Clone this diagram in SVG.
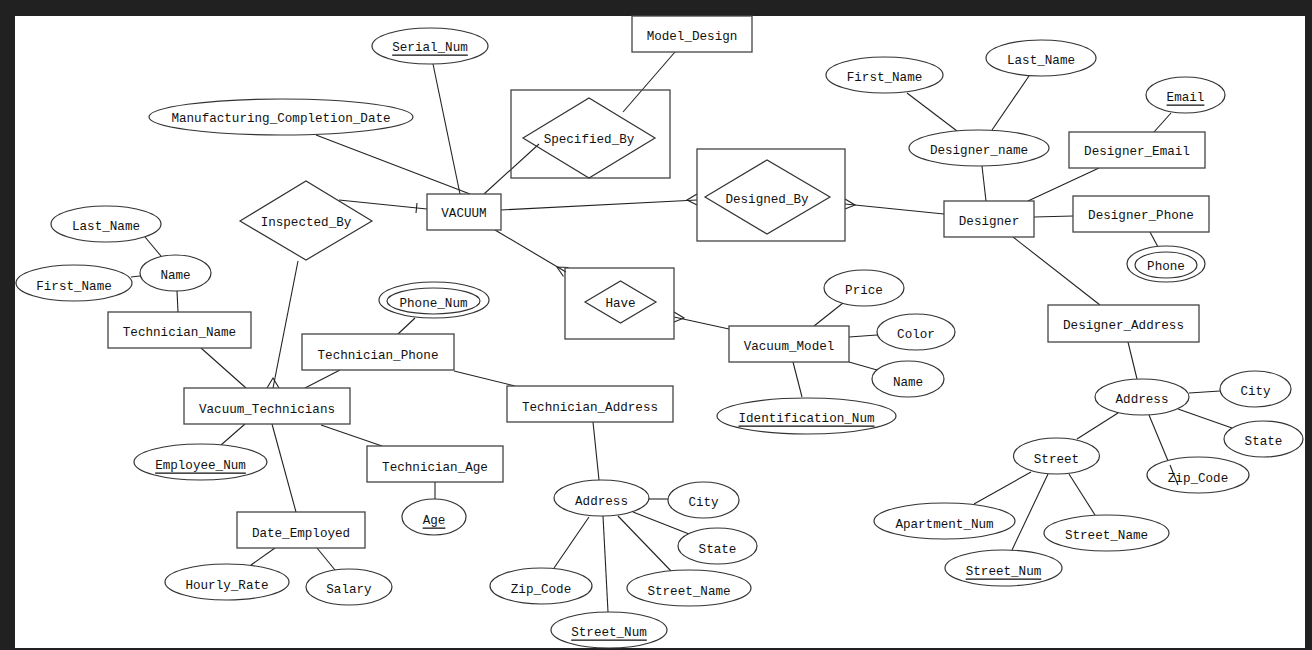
<svg xmlns="http://www.w3.org/2000/svg" width="1312" height="650" viewBox="0 0 1312 650">
<style>
.e{fill:#fff;stroke:#333;stroke-width:1.2}
.r{fill:#fff;stroke:#444;stroke-width:1.3}
.b{fill:none;stroke:#444;stroke-width:1.3}
.d{fill:none;stroke:#333;stroke-width:1.2}
.l{fill:none;stroke:#222;stroke-width:1.1}
text{font-family:"Liberation Mono","Courier New",monospace;font-size:12.6px;fill:#111;text-anchor:middle;dominant-baseline:central;transform:translateY(1.5px)}
.u{text-decoration:underline}
</style>
<rect x="0" y="0" width="1312" height="650" fill="#212121"/>
<rect x="15" y="16" width="1290" height="632" fill="#fff"/>
<g id="connectors">
<line class="l" x1="433" y1="64" x2="460" y2="194"/>
<line class="l" x1="316" y1="135" x2="470" y2="194"/>
<line class="l" x1="339" y1="200" x2="427" y2="209"/>
<line class="l" x1="417" y1="203" x2="416" y2="213"/>
<line class="l" x1="484" y1="194" x2="539" y2="144"/>
<line class="l" x1="675" y1="52" x2="623" y2="112"/>
<line class="l" x1="501" y1="210" x2="697" y2="200"/>
<polyline class="l" points="697,194 687,200 697,205"/>
<line class="l" x1="944" y1="214" x2="845" y2="204"/>
<polyline class="l" points="845,199 855,205 845,209"/>
<line class="l" x1="495" y1="230" x2="566" y2="272"/>
<polyline class="l" points="563.5,276.5 557,267 568.5,267.5"/>
<line class="l" x1="729" y1="329" x2="674" y2="317"/>
<polyline class="l" points="674,312 684,318 674,322"/>
<line class="l" x1="298" y1="261" x2="273" y2="388"/>
<polyline class="l" points="267,388 273,378 279,388"/>
<line class="l" x1="907" y1="93" x2="957" y2="131"/>
<line class="l" x1="1029" y1="76" x2="992" y2="130"/>
<line class="l" x1="982" y1="166" x2="986" y2="201"/>
<line class="l" x1="1171" y1="113" x2="1154" y2="132"/>
<line class="l" x1="1099" y1="168" x2="1028" y2="201"/>
<line class="l" x1="1034" y1="217" x2="1073" y2="216"/>
<line class="l" x1="1150" y1="232" x2="1158" y2="247"/>
<line class="l" x1="1013" y1="237" x2="1100" y2="305"/>
<line class="l" x1="1128" y1="342" x2="1137" y2="379"/>
<line class="l" x1="1189" y1="393" x2="1220" y2="391"/>
<line class="l" x1="1178" y1="409" x2="1232" y2="428"/>
<line class="l" x1="1149" y1="415" x2="1178" y2="485"/>
<line class="l" x1="1118" y1="413" x2="1077" y2="439"/>
<line class="l" x1="1031" y1="472" x2="974" y2="504"/>
<line class="l" x1="1048" y1="474" x2="1012" y2="550"/>
<line class="l" x1="1069" y1="474" x2="1095" y2="515"/>
<line class="l" x1="145" y1="237" x2="161" y2="256"/>
<line class="l" x1="131" y1="277" x2="140" y2="276"/>
<line class="l" x1="177" y1="291" x2="178" y2="312"/>
<line class="l" x1="201" y1="348" x2="246" y2="388"/>
<line class="l" x1="415" y1="318" x2="398" y2="334"/>
<line class="l" x1="340" y1="370" x2="305" y2="388"/>
<line class="l" x1="454" y1="371" x2="515" y2="386"/>
<line class="l" x1="245" y1="424" x2="221" y2="445"/>
<line class="l" x1="321" y1="425" x2="382" y2="446"/>
<line class="l" x1="435" y1="482" x2="435" y2="499"/>
<line class="l" x1="272" y1="424" x2="296" y2="512"/>
<line class="l" x1="275" y1="548" x2="251" y2="565"/>
<line class="l" x1="317" y1="548" x2="335" y2="570"/>
<line class="l" x1="814" y1="326" x2="843" y2="303"/>
<line class="l" x1="849" y1="337" x2="877" y2="335"/>
<line class="l" x1="849" y1="362" x2="877" y2="370"/>
<line class="l" x1="793" y1="362" x2="802" y2="397"/>
<line class="l" x1="593" y1="422" x2="599" y2="480"/>
<line class="l" x1="649" y1="499" x2="668" y2="499"/>
<line class="l" x1="633" y1="512" x2="689" y2="534"/>
<line class="l" x1="589" y1="517" x2="554" y2="568"/>
<line class="l" x1="603" y1="516" x2="608" y2="612"/>
<line class="l" x1="618" y1="516" x2="671" y2="571"/>
</g>
<g id="Serial_Num"><ellipse class="e" cx="430" cy="46" rx="58" ry="18"/><text class="u" x="430" y="46">Serial_Num</text></g>
<g id="Manufacturing_Completion_Date"><ellipse class="e" cx="281" cy="117" rx="132" ry="18"/><text x="281" y="117">Manufacturing_Completion_Date</text></g>
<g id="VACUUM"><rect class="r" x="427" y="194" width="74" height="36"/><text x="464" y="212">VACUUM</text></g>
<g id="Model_Design"><rect class="r" x="632" y="16" width="120" height="36"/><text x="692" y="35">Model_Design</text></g>
<g id="Specified_By"><rect class="b" x="511" y="90" width="159" height="88"/><polygon class="d" points="523,138 589,98 655,138 589,178"/><text x="589" y="138">Specified_By</text></g>
<g id="Designed_By"><rect class="b" x="697" y="149" width="148" height="92"/><polygon class="d" points="705,197 767,160 830,197 767,234"/><text x="767" y="198">Designed_By</text></g>
<g id="Have"><rect class="b" x="565" y="268" width="109" height="71"/><polygon class="d" points="585,302 620.5,281 656,302 620.5,323"/><text x="620.5" y="302">Have</text></g>
<g id="Inspected_By"><polygon class="d" points="240,221 306,181 372,221 306,260"/><text x="306" y="221">Inspected_By</text></g>
<g id="Designer"><rect class="r" x="944" y="201" width="90" height="36"/><text x="989" y="220">Designer</text></g>
<g id="Designer_name"><ellipse class="e" cx="979" cy="148" rx="70" ry="18"/><text x="979" y="149">Designer_name</text></g>
<g id="D_First_Name"><ellipse class="e" cx="884.5" cy="75" rx="58.5" ry="18"/><text x="884.5" y="76">First_Name</text></g>
<g id="D_Last_Name"><ellipse class="e" cx="1041" cy="58" rx="55" ry="18"/><text x="1041" y="59">Last_Name</text></g>
<g id="Email"><ellipse class="e" cx="1185.5" cy="95" rx="39.5" ry="18"/><text class="u" x="1185.5" y="96">Email</text></g>
<g id="Designer_Email"><rect class="r" x="1069" y="132" width="136" height="36"/><text x="1137" y="150">Designer_Email</text></g>
<g id="Designer_Phone"><rect class="r" x="1073" y="196" width="136" height="36"/><text x="1141" y="214">Designer_Phone</text></g>
<g id="Phone"><ellipse class="e" cx="1166" cy="264" rx="39" ry="18"/><ellipse class="e" cx="1166" cy="265" rx="31" ry="13"/><text x="1166" y="265">Phone</text></g>
<g id="Designer_Address"><rect class="r" x="1048" y="305" width="151" height="37"/><text x="1123.5" y="324">Designer_Address</text></g>
<g id="D_Address"><ellipse class="e" cx="1142" cy="397" rx="47" ry="18"/><text x="1142" y="398">Address</text></g>
<g id="D_City"><ellipse class="e" cx="1255.5" cy="389" rx="35.5" ry="18"/><text x="1255.5" y="390">City</text></g>
<g id="D_State"><ellipse class="e" cx="1263.5" cy="439" rx="39.5" ry="18"/><text x="1263.5" y="440">State</text></g>
<g id="D_Zip_Code"><ellipse class="e" cx="1198" cy="475" rx="51" ry="18"/><text x="1198" y="477">Zip_Code</text></g>
<line class="l" x1="1170" y1="465" x2="1178" y2="485"/>
<g id="D_Street"><ellipse class="e" cx="1056.5" cy="456" rx="43" ry="18"/><text x="1056.5" y="458">Street</text></g>
<g id="D_Apartment_Num"><ellipse class="e" cx="944.5" cy="521" rx="70.5" ry="18"/><text x="944.5" y="523">Apartment_Num</text></g>
<g id="D_Street_Num"><ellipse class="e" cx="1003.5" cy="568" rx="58.5" ry="18"/><text class="u" x="1003.5" y="570">Street_Num</text></g>
<g id="D_Street_Name"><ellipse class="e" cx="1106.5" cy="533" rx="62.5" ry="18"/><text x="1106.5" y="534">Street_Name</text></g>
<g id="T_Last_Name"><ellipse class="e" cx="106" cy="224" rx="55" ry="18"/><text x="106" y="225">Last_Name</text></g>
<g id="T_Name"><ellipse class="e" cx="175.5" cy="273" rx="35.5" ry="18"/><text x="175.5" y="274">Name</text></g>
<g id="T_First_Name"><ellipse class="e" cx="74" cy="283" rx="58" ry="18"/><text x="74" y="285">First_Name</text></g>
<g id="Technician_Name"><rect class="r" x="108" y="312" width="143" height="36"/><text x="179.5" y="331">Technician_Name</text></g>
<g id="Vacuum_Technicians"><rect class="r" x="184" y="388" width="166" height="36"/><text x="267" y="408">Vacuum_Technicians</text></g>
<g id="Technician_Phone"><rect class="r" x="302" y="334" width="152" height="36"/><text x="378" y="354">Technician_Phone</text></g>
<g id="Phone_Num"><ellipse class="e" cx="434" cy="300" rx="55" ry="18"/><ellipse class="e" cx="433.5" cy="301" rx="46.5" ry="13"/><text x="433.5" y="302">Phone_Num</text></g>
<g id="Employee_Num"><ellipse class="e" cx="200.5" cy="462" rx="66.5" ry="18"/><text class="u" x="200.5" y="464">Employee_Num</text></g>
<g id="Technician_Age"><rect class="r" x="367" y="446" width="136" height="36"/><text x="435" y="466">Technician_Age</text></g>
<g id="Age"><ellipse class="e" cx="434" cy="517" rx="32" ry="18"/><text class="u" x="434" y="519">Age</text></g>
<g id="Date_Employed"><rect class="r" x="237" y="512" width="128" height="36"/><text x="301" y="532">Date_Employed</text></g>
<g id="Hourly_Rate"><ellipse class="e" cx="227" cy="582" rx="62" ry="18"/><text x="227" y="584">Hourly_Rate</text></g>
<g id="Salary"><ellipse class="e" cx="349" cy="587" rx="43" ry="18"/><text x="349" y="588">Salary</text></g>
<g id="Vacuum_Model"><rect class="r" x="729" y="326" width="120" height="36"/><text x="789" y="345">Vacuum_Model</text></g>
<g id="Price"><ellipse class="e" cx="864" cy="288" rx="40" ry="18"/><text x="864" y="289">Price</text></g>
<g id="Color"><ellipse class="e" cx="916" cy="332" rx="39" ry="18"/><text x="916" y="333">Color</text></g>
<g id="VM_Name"><ellipse class="e" cx="908" cy="379" rx="36" ry="18"/><text x="908" y="381">Name</text></g>
<g id="Identification_Num"><ellipse class="e" cx="806.5" cy="416" rx="89.5" ry="18"/><text class="u" x="806.5" y="417">Identification_Num</text></g>
<g id="Technician_Address"><rect class="r" x="507" y="386" width="166" height="36"/><text x="590" y="406">Technician_Address</text></g>
<g id="T_Address"><ellipse class="e" cx="601.5" cy="498" rx="47.5" ry="18"/><text x="601.5" y="500">Address</text></g>
<g id="T_City"><ellipse class="e" cx="703.5" cy="500" rx="35.5" ry="18"/><text x="703.5" y="501">City</text></g>
<g id="T_State"><ellipse class="e" cx="717.5" cy="546" rx="39.5" ry="18"/><text x="717.5" y="548">State</text></g>
<g id="T_Zip_Code"><ellipse class="e" cx="541" cy="586" rx="51" ry="18"/><text x="541" y="588">Zip_Code</text></g>
<g id="T_Street_Num"><ellipse class="e" cx="609" cy="630" rx="58" ry="18"/><text class="u" x="609" y="631">Street_Num</text></g>
<g id="T_Street_Name"><ellipse class="e" cx="689" cy="588" rx="62" ry="18"/><text x="689" y="590">Street_Name</text></g>
</svg>
